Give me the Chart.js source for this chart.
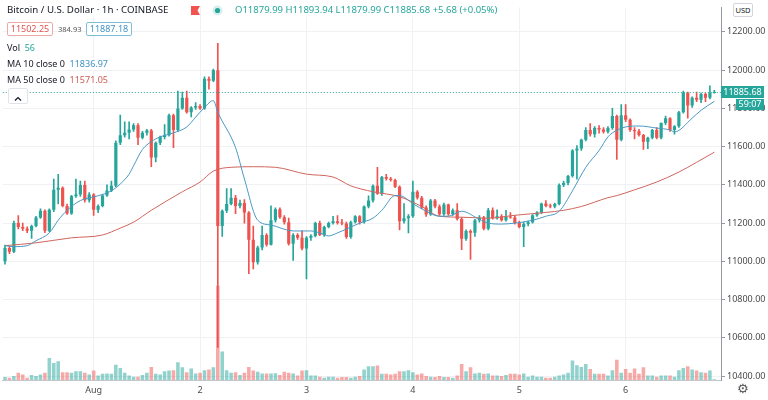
<!DOCTYPE html>
<html>
<head>
<meta charset="utf-8">
<title>Bitcoin / U.S. Dollar 1h</title>
<script src="https://cdn.jsdelivr.net/npm/chart.js@4.4.1/dist/chart.umd.min.js"></script>
<style>
  html, body { margin: 0; padding: 0; background: #fff; }
  #wrap { position: relative; width: 768px; height: 400px; overflow: hidden;
          font-family: "Noto Sans", Roboto, sans-serif; color: #131722; }
  #chart { position: absolute; left: 0; top: 0; }
  .lg { position: absolute; white-space: nowrap; background: rgba(255, 255, 255, 0.92); }
  .title { left: 7px; top: 3px; height: 14px; line-height: 14px; font-size: 9.7px; padding-right: 4px; }
  .ohlc { left: 235px; top: 3px; height: 14px; line-height: 14px; font-size: 9.5px; color: #26a69a; }
  .box { position: absolute; top: 22px; height: 12px; line-height: 12px; width: 44px; font-size: 9px;
         text-align: center; border-radius: 2px; background: #fff; }
  .row { left: 7px; height: 12px; line-height: 12px; font-size: 9px; padding-right: 3px; }
  .up { color: #26a69a; }
  .ma10 { color: #3f93c6; }
  .ma50 { color: #cf5b52; }
</style>
</head>
<body>
<div id="wrap">
  <canvas id="chart" width="768" height="400"></canvas>

  <div class="lg title">Bitcoin / U.S. Dollar · 1h · COINBASE</div>
  <svg style="position:absolute;left:191px;top:6px" width="9" height="9" viewBox="0 0 9 9">
    <polygon points="0,0 9,0 6.5,4.5 9,9 0,9" fill="#f05350"/>
  </svg>
  <svg style="position:absolute;left:212px;top:5px" width="11" height="11" viewBox="0 0 11 11">
    <circle cx="5.5" cy="5.5" r="5" fill="#d7efec"/>
    <circle cx="5.5" cy="5.5" r="2.6" fill="#26a69a"/>
  </svg>
  <div class="lg ohlc">O11879.99 H11893.94 L11879.99 C11885.68 +5.68 (+0.05%)</div>

  <div class="box" style="left:7px;border:1px solid #efa9a6;color:#e0534e">11502.25</div>
  <div class="lg" style="left:58px;top:24px;height:10px;line-height:10px;font-size:7.5px;color:#555">384.93</div>
  <div class="box" style="left:86px;border:1px solid #7fbfd6;color:#3f93c6">11887.18</div>

  <div class="lg row" style="top:42px">Vol <span class="up">&nbsp;56</span></div>
  <div class="lg row" style="top:58px">MA 10 close 0 <span class="ma10">&nbsp;11836.97</span></div>
  <div class="lg row" style="top:74px">MA 50 close 0 <span class="ma50">&nbsp;11571.05</span></div>

  <div style="position:absolute;left:8px;top:88px;width:18px;height:14px;border:1px solid #e0e3eb;border-radius:2px;background:#fff">
    <svg width="18" height="14" viewBox="0 0 18 14"><polyline points="6,8.5 9,5.5 12,8.5" fill="none" stroke="#131722" stroke-width="1.2"/></svg>
  </div>

  <div style="position:absolute;left:733px;top:3px;width:18px;height:12px;line-height:12px;border:1px solid #d1d4dc;border-radius:2px;font-size:7.5px;text-align:center;color:#131722;background:#fff">USD</div>
  <div style="position:absolute;left:737px;top:381px;font-family:'DejaVu Sans';font-size:13px;color:#555">⚙</div>
</div>

<script>
// Hourly candles, 31 Jul 04:00 .. 6 Aug 20:00 (UTC), one spare slot on the right
const opens = [
  11000, 11070, 11050, 11200, 11180, 11170, 11160, 11185, 11230, 11265,
  11160, 11270, 11375, 11385, 11290, 11250, 11340, 11350, 11400, 11320,
  11350, 11270, 11290, 11345, 11370, 11395, 11620, 11660, 11672, 11690,
  11712, 11646, 11672, 11685, 11543, 11620, 11650, 11660, 11764, 11687,
  11800, 11856, 11780, 11805, 11812, 11800, 11955, 11945, 12000, 11185,
  11265, 11300, 11333, 11290, 11305, 11255, 11113, 10995, 11072, 11138,
  11087, 11215, 11272, 11231, 11205, 11092, 11138, 11123, 11067, 11123,
  11133, 11200, 11138, 11180, 11200, 11210, 11200, 11198, 11128, 11205,
  11236, 11205, 11287, 11318, 11395, 11354, 11441, 11432, 11425, 11390,
  11210, 11226, 11236, 11364, 11333, 11282, 11245, 11318, 11287, 11246,
  11297, 11246, 11267, 11222, 11118, 11159, 11150, 11215, 11228, 11170,
  11267, 11226, 11236, 11215, 11235, 11230, 11200, 11180, 11195, 11205,
  11241, 11256, 11302, 11290, 11287, 11300, 11400, 11410, 11446, 11580,
  11590, 11636, 11687, 11665, 11697, 11690, 11678, 11697, 11760, 11636,
  11764, 11740, 11687, 11680, 11661, 11626, 11646, 11687, 11646, 11723,
  11749, 11687, 11707, 11780, 11882, 11815, 11856, 11845, 11875, 11856,
  11879.99
];
const highs = [
  11085, 11080, 11210, 11240, 11200, 11180, 11190, 11235, 11275, 11270,
  11275, 11430, 11455, 11390, 11300, 11345, 11430, 11420, 11420, 11360,
  11355, 11295, 11350, 11400, 11420, 11630, 11765, 11730, 11730, 11720,
  11720, 11680, 11690, 11690, 11625, 11655, 11715, 11770, 11770, 11890,
  11885, 11890, 11810, 11830, 11820, 11965, 11965, 12005, 12140, 11270,
  11380, 11380, 11345, 11320, 11323, 11260, 11185, 11080, 11185, 11145,
  11290, 11280, 11280, 11240, 11226, 11145, 11145, 11160, 11130, 11140,
  11205, 11210, 11185, 11205, 11236, 11240, 11220, 11205, 11210, 11240,
  11240, 11290, 11343, 11400, 11492, 11445, 11455, 11440, 11430, 11395,
  11302, 11245, 11420, 11370, 11340, 11290, 11325, 11325, 11295, 11305,
  11300, 11275, 11302, 11230, 11165, 11165, 11220, 11240, 11235, 11277,
  11280, 11270, 11245, 11267, 11255, 11240, 11210, 11205, 11210, 11245,
  11260, 11305, 11318, 11300, 11305, 11405, 11420, 11450, 11585, 11605,
  11640, 11700, 11720, 11705, 11710, 11700, 11705, 11800, 11765, 11820,
  11820, 11745, 11700, 11690, 11665, 11650, 11690, 11700, 11725, 11760,
  11752, 11710, 11785, 11890, 11885, 11860, 11885, 11880, 11880, 11918,
  11893.94
];
const lows = [
  10985, 11040, 11045, 11170, 11160, 11150, 11120, 11180, 11225, 11150,
  11155, 11260, 11300, 11285, 11245, 11245, 11335, 11340, 11310, 11310,
  11240, 11255, 11285, 11340, 11365, 11390, 11610, 11650, 11640, 11680,
  11610, 11640, 11660, 11495, 11520, 11610, 11640, 11655, 11595, 11680,
  11795, 11775, 11755, 11795, 11795, 11795, 11900, 11940, 10550, 11130,
  11255, 11295, 11250, 11280, 11200, 10935, 10960, 10985, 11060, 11080,
  11085, 11205, 11225, 11195, 11085, 11005, 11115, 11060, 10908, 11110,
  11128, 11135, 11130, 11175, 11195, 11195, 11190, 11120, 11120, 11200,
  11195, 11200, 11280, 11310, 11350, 11345, 11425, 11420, 11385, 11165,
  11200, 11149, 11230, 11325, 11275, 11235, 11240, 11280, 11240, 11240,
  11240, 11240, 11215, 11061, 11110, 11010, 11130, 11205, 11165, 11165,
  11220, 11220, 11210, 11210, 11225, 11195, 11175, 11077, 11185, 11200,
  11235, 11250, 11285, 11280, 11280, 11295, 11390, 11400, 11440, 11430,
  11580, 11630, 11655, 11650, 11670, 11670, 11670, 11690, 11533, 11630,
  11730, 11680, 11640, 11655, 11585, 11590, 11640, 11640, 11640, 11715,
  11680, 11665, 11700, 11775, 11749, 11805, 11835, 11830, 11835, 11850,
  11879.99
];
const closes = [
  11070, 11050, 11200, 11180, 11170, 11160, 11185, 11230, 11265, 11160,
  11270, 11375, 11385, 11290, 11250, 11340, 11350, 11400, 11320, 11350,
  11270, 11290, 11345, 11370, 11395, 11620, 11660, 11672, 11690, 11712,
  11646, 11672, 11685, 11543, 11620, 11650, 11660, 11764, 11687, 11800,
  11856, 11780, 11805, 11812, 11800, 11955, 11945, 12000, 11185, 11265,
  11300, 11333, 11290, 11305, 11255, 11113, 10995, 11072, 11138, 11087,
  11215, 11272, 11231, 11205, 11092, 11138, 11123, 11067, 11123, 11133,
  11200, 11138, 11180, 11200, 11210, 11200, 11198, 11128, 11205, 11236,
  11205, 11287, 11318, 11395, 11354, 11441, 11432, 11425, 11390, 11210,
  11226, 11236, 11364, 11333, 11282, 11245, 11318, 11287, 11246, 11297,
  11246, 11267, 11222, 11118, 11159, 11150, 11215, 11228, 11170, 11267,
  11226, 11236, 11215, 11235, 11230, 11200, 11180, 11195, 11205, 11241,
  11256, 11302, 11290, 11287, 11300, 11400, 11410, 11446, 11580, 11590,
  11636, 11687, 11665, 11697, 11690, 11678, 11697, 11760, 11636, 11764,
  11740, 11687, 11680, 11661, 11626, 11646, 11687, 11646, 11723, 11749,
  11687, 11707, 11780, 11882, 11815, 11856, 11845, 11875, 11856, 11880,
  11885.68
];
const volumes = [
  243, 189, 324, 594, 459, 189, 405, 324, 459, 594,
  1809, 1404, 1539, 648, 648, 594, 729, 729, 594, 459,
  783, 378, 513, 540, 513, 1269, 999, 594, 378, 270,
  270, 405, 594, 1080, 513, 459, 729, 783, 810, 1458,
  1053, 648, 945, 540, 594, 810, 864, 1053, 7776, 2349,
  810, 594, 648, 405, 594, 1080, 783, 675, 540, 540,
  540, 567, 405, 675, 594, 540, 378, 783, 810, 378,
  378, 270, 189, 270, 270, 189, 243, 243, 189, 270,
  324, 864, 1134, 1134, 1188, 513, 513, 459, 513, 729,
  729, 810, 648, 459, 540, 324, 270, 243, 324, 243,
  243, 189, 378, 1323, 729, 1053, 540, 594, 513, 540,
  378, 378, 324, 405, 513, 513, 459, 540, 270, 378,
  270, 270, 189, 189, 270, 378, 459, 594, 1620, 1215,
  1080, 1323, 918, 513, 513, 513, 378, 810, 1674, 594,
  918, 594, 945, 513, 1053, 378, 378, 270, 378, 378,
  378, 270, 810, 999, 1134, 864, 783, 648, 594, 783,
  56
];

// moving averages at these candles
const ma10Index = [0, 2, 5, 7, 10, 12, 14, 17, 21, 24, 26, 28, 29, 31, 33, 35, 38, 41, 43, 45,
  47, 48, 52, 54, 57, 60, 65, 69, 71, 73, 75, 77, 80, 83, 85, 88, 89, 92, 95, 98,
  100, 103, 107, 109, 112, 115, 119, 122, 125, 128, 131, 134, 136, 137, 140, 143, 147, 150, 151, 155,
  157, 160];
const ma10Values = [11082, 11077, 11082, 11108, 11149, 11215, 11267, 11318, 11343, 11369, 11405, 11456, 11500, 11585, 11626, 11651, 11672, 11703, 11754, 11805,
  11841, 11780, 11595, 11431, 11215, 11190, 11159, 11159, 11149, 11133, 11149, 11169, 11200, 11226, 11267, 11344, 11344, 11302, 11262, 11236,
  11236, 11262, 11220, 11200, 11195, 11200, 11215, 11236, 11262, 11369, 11492, 11580, 11651, 11672, 11703, 11708, 11697, 11687, 11677, 11749,
  11790, 11837];
const ma50Index = [0, 7, 15, 22, 26, 29, 33, 40, 44, 47, 51, 56, 61, 68, 74, 78, 83, 89, 94, 98,
  103, 109, 115, 122, 126, 130, 136, 138, 142, 147, 152, 156, 160];
const ma50Values = [11082, 11097, 11123, 11138, 11174, 11205, 11267, 11364, 11415, 11472, 11492, 11495, 11492, 11456, 11441, 11395, 11364, 11338, 11287, 11236,
  11231, 11226, 11241, 11256, 11267, 11287, 11333, 11344, 11374, 11415, 11467, 11518, 11571];

const dayTickIndex = [20, 44, 68, 92, 116, 140];
const dayTickLabels = ['Aug', '2', '3', '4', '5', '6'];
const priceTicks = [10400, 10600, 10800, 11000, 11200, 11400, 11600, 11800, 12000, 12200];

const SLOTS = closes.length + 1;
const START = Date.UTC(2020, 6, 31, 4);
const categories = Array.from({ length: SLOTS }, (_, i) =>
  new Date(START + i * 3600000).toISOString().slice(5, 16));

const UP = '#26a69a';
const DOWN = '#ef5350';
const UP_VOL = 'rgba(38, 166, 154, 0.5)';
const DOWN_VOL = 'rgba(239, 83, 80, 0.5)';
const GRID = '#eff1f5';
const AXIS = '#9598a1';
const TEXT = '#4a4a4a';

const sparse = (idx, vals) => {
  const out = new Array(SLOTS).fill(null);
  idx.forEach((i, k) => { out[i] = vals[k]; });
  return out;
};

const isUp = closes.map((c, i) => c >= opens[i]);
const candleColors = isUp.map((u) => (u ? UP : DOWN));
const volumeColors = isUp.map((u) => (u ? UP_VOL : DOWN_VOL));

// dotted last-price line + price / countdown tags on the axis
const lastPricePlugin = {
  id: 'lastPrice',
  afterDatasetsDraw(chart) {
    const { ctx, chartArea, scales } = chart;
    const y = Math.round(scales.y.getPixelForValue(closes[closes.length - 1])) + 0.5;
    ctx.save();
    ctx.strokeStyle = UP;
    ctx.lineWidth = 1;
    ctx.setLineDash([1, 2]);
    ctx.beginPath();
    ctx.moveTo(chartArea.left, y);
    ctx.lineTo(chartArea.right, y);
    ctx.stroke();
    ctx.restore();
  },
  afterDraw(chart) {
    const { ctx, chartArea, scales } = chart;
    const y = Math.round(scales.y.getPixelForValue(closes[closes.length - 1]));
    const x = chartArea.right;
    ctx.save();
    ctx.fillStyle = UP;
    ctx.fillRect(x, y - 6, 43, 12);
    ctx.fillRect(x + 15, y + 7, 28, 11);
    ctx.fillStyle = '#fff';
    ctx.font = '9px "Noto Sans"';
    ctx.textAlign = 'center';
    ctx.textBaseline = 'middle';
    ctx.fillText(closes[closes.length - 1].toFixed(2), x + 21.5, y + 0.5);
    ctx.fillText('59:07', x + 29, y + 12.5);
    ctx.restore();
  },
};

const generateChart = () => {
  new Chart(document.getElementById('chart'), {
    type: 'bar',
    data: {
      labels: categories,
      datasets: [
        {
          type: 'line',
          label: 'MA 10',
          data: sparse(ma10Index, ma10Values),
          borderColor: '#4a98c4',
          borderWidth: 1,
          pointRadius: 0,
          spanGaps: true,
          cubicInterpolationMode: 'monotone',
          yAxisID: 'y',
          order: 1,
        },
        {
          type: 'line',
          label: 'MA 50',
          data: sparse(ma50Index, ma50Values),
          borderColor: '#d0655c',
          borderWidth: 1,
          pointRadius: 0,
          spanGaps: true,
          cubicInterpolationMode: 'monotone',
          yAxisID: 'y',
          order: 2,
        },
        {
          label: 'body',
          data: opens.map((o, i) => [o, closes[i]]),
          backgroundColor: candleColors,
          barPercentage: 0.72,
          categoryPercentage: 1,
          grouped: false,
          minBarLength: 1,
          yAxisID: 'y',
          order: 3,
        },
        {
          label: 'wick',
          data: lows.map((l, i) => [l, highs[i]]),
          backgroundColor: candleColors,
          barThickness: 1,
          grouped: false,
          yAxisID: 'y',
          order: 4,
        },
        {
          label: 'Vol',
          data: volumes,
          backgroundColor: volumeColors,
          barPercentage: 0.8,
          categoryPercentage: 1,
          grouped: false,
          yAxisID: 'vol',
          order: 5,
        },
      ],
    },
    options: {
      responsive: false,
      animation: false,
      layout: { padding: 0, autoPadding: false },
      plugins: { legend: { display: false }, tooltip: { enabled: false } },
      scales: {
        x: {
          offset: true,
          grid: {
            offset: false,
            drawTicks: false,
            color: (c) => (dayTickIndex.includes(c.index) ? GRID : 'transparent'),
          },
          border: { color: '#c4c7ce' },
          ticks: {
            autoSkip: false,
            maxRotation: 0,
            minRotation: 0,
            padding: 5,
            color: TEXT,
            font: { family: 'Noto Sans', size: 9 },
            callback: (v, i) => {
              const k = dayTickIndex.indexOf(i);
              return k >= 0 ? dayTickLabels[k] : '';
            },
          },
          afterFit: (s) => { s.height = 20; },
        },
        y: {
          position: 'right',
          min: 10379.5,
          max: 12328.2,
          ticks: {
            padding: 2,
            color: TEXT,
            font: { family: 'Noto Sans', size: 9 },
            callback: (v) => v.toFixed(2),
          },
          afterBuildTicks: (s) => { s.ticks = priceTicks.map((v) => ({ value: v })); },
          grid: { color: GRID, tickLength: 4, tickColor: AXIS },
          border: { color: AXIS },
          afterFit: (s) => { s.width = 47; },
        },
        vol: {
          type: 'linear',
          position: 'left',
          display: false,
          min: 0,
          max: 30780,
        },
      },
    },
    plugins: [lastPricePlugin],
  });
};

generateChart();
</script>
</body>
</html>
